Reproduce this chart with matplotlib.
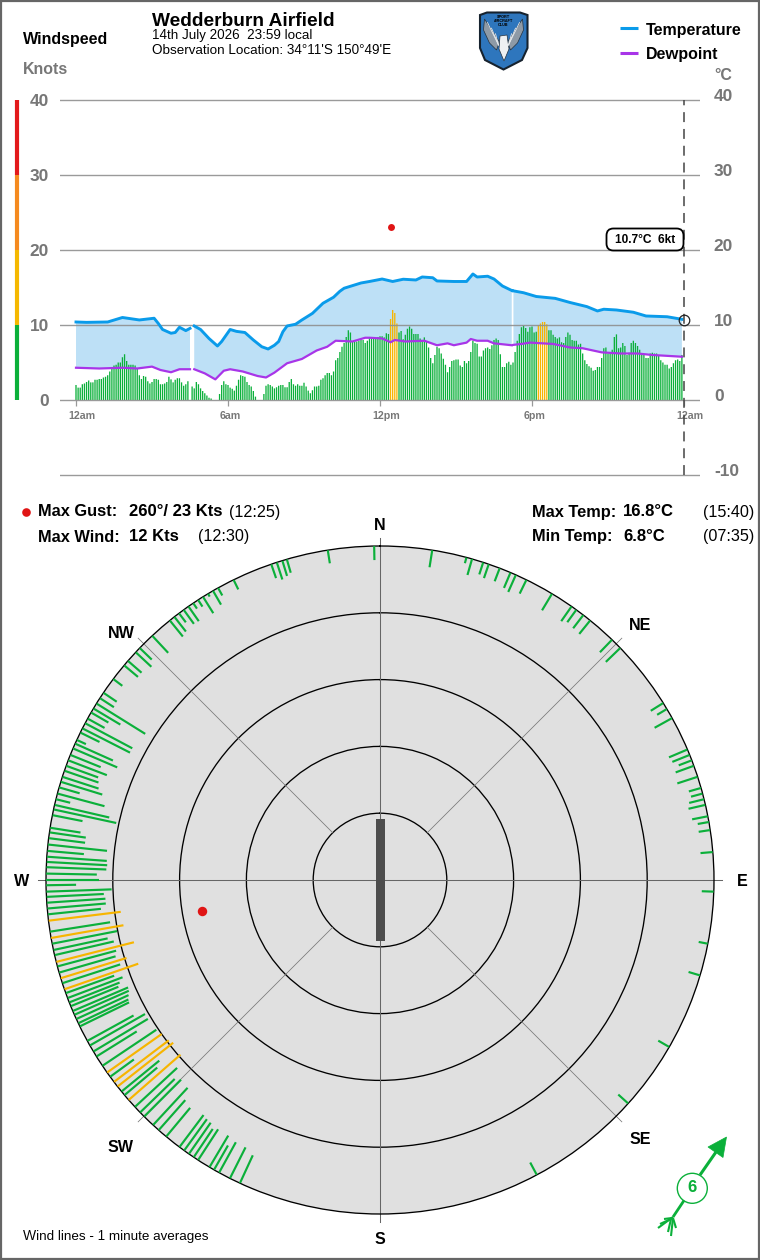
import numpy as np
import matplotlib
matplotlib.use("Agg")
import matplotlib.pyplot as plt
from matplotlib.patches import Polygon, Rectangle, FancyBboxPatch, Circle

plt.rcParams["font.family"] = ["Liberation Sans", "DejaVu Sans"]
plt.rcParams["text.hinting"] = "no_autohint"

W, H = 760, 1260
GREEN, AMBER = "#0bb03a", "#f7b500"
GREY = "#777777"
TEMP_C, DEW_C = "#0a9bea", "#a835e8"

# 5-minute average wind speed in knots, midnight to midnight
wind_bars = [
    2.0, 1.65, 1.65, 2.1, 2.2, 2.4, 2.6, 2.35, 2.35, 2.7,
    2.7, 2.8, 2.8, 3.0, 3.1, 3.3, 3.8, 4.4, 4.6, 4.7,
    5.0, 5.0, 5.7, 6.1, 5.2, 4.7, 4.7, 4.7, 4.6, 4.2,
    3.3, 2.8, 3.2, 3.1, 2.5, 2.2, 2.4, 2.8, 2.8, 2.7,
    2.1, 2.1, 2.2, 2.4, 3.1, 2.75, 2.35, 2.7, 2.9, 2.9,
    2.35, 1.9, 2.1, 2.5, 0, 1.8, 1.55, 2.4, 2.1, 1.55,
    1.2, 0.9, 0.6, 0.3, 0.2, 0, 0, 0, 0.8, 2.0,
    2.5, 2.1, 2.0, 1.65, 1.5, 1.25, 1.9, 2.7, 3.3, 3.2,
    3.1, 2.4, 2.0, 1.8, 1.2, 0.45, 0, 0, 0, 0.8,
    1.9, 2.1, 2.0, 1.8, 1.55, 1.7, 1.9, 2.0, 2.0, 1.7,
    1.7, 2.4, 2.8, 2.1, 1.9, 2.1, 1.9, 1.9, 2.3, 1.8,
    1.25, 0.9, 1.3, 1.8, 1.8, 1.9, 2.7, 2.9, 3.3, 3.6,
    3.6, 3.3, 3.8, 5.3, 5.6, 6.4, 7.1, 7.6, 8.4, 9.3,
    9.0, 7.8, 7.8, 7.8, 7.9, 8.0, 8.0, 7.6, 7.9, 8.4,
    8.2, 8.3, 8.3, 8.4, 8.5, 8.5, 8.35, 8.9, 8.8, 10.8,
    12.0, 11.6, 10.2, 9.0, 9.2, 8.1, 8.7, 9.5, 9.8, 9.5,
    8.8, 8.8, 8.8, 8.2, 8.0, 8.35, 7.8, 7.0, 5.6, 4.9,
    6.0, 7.1, 6.9, 6.2, 5.5, 4.7, 3.7, 4.4, 5.2, 5.3,
    5.4, 5.4, 4.6, 4.4, 5.2, 4.9, 5.2, 6.4, 7.9, 7.6,
    7.5, 5.8, 5.8, 6.6, 6.9, 7.0, 6.8, 7.3, 8.0, 8.2,
    8.0, 6.1, 4.4, 4.4, 4.9, 5.1, 4.7, 5.0, 6.4, 7.9,
    8.8, 9.7, 9.9, 9.6, 9.1, 9.7, 9.8, 9.0, 9.1, 10.0,
    10.2, 10.4, 10.4, 10.1, 9.3, 9.3, 8.7, 8.4, 8.2, 8.35,
    7.7, 7.6, 8.4, 9.0, 8.7, 8.0, 7.9, 7.9, 7.4, 7.5,
    6.2, 5.3, 4.8, 4.5, 4.3, 3.9, 4.0, 4.4, 4.4, 5.6,
    6.9, 7.0, 6.2, 6.2, 6.7, 8.4, 8.75, 6.9, 7.0, 7.6,
    7.2, 6.0, 6.3, 7.6, 7.9, 7.6, 7.2, 6.7, 6.2, 6.1,
    5.6, 5.6, 6.2, 6.3, 6.2, 6.2, 6.0, 5.3, 5.0, 4.7,
    4.7, 4.2, 4.4, 4.9, 5.3, 5.4, 5.2, 6.0,
]

# Temperature and dewpoint, position in 5-minute samples; nan marks a logging gap
temp_t = [0, 5, 15, 22, 30, 37, 39, 41, 45, 47, 49, 52, 54, np.nan, 56, 59, 63, 67, 69, 73,
          76, 80, 84, 88, 91, 94, 96, 98, 100, 104, 107, 112, 117, 122, 125, 127, 135, 139,
          145, 150, 155, 161, 164, 169, 171, 179, 185, 188, 190, 195, 198, 202, 206.4, np.nan,
          207.2, 212, 218, 227, 234, 242, 247, 250, 256, 264, 270, 280, 287]
temp_c = [10.4, 10.35, 10.4, 11.0, 10.67, 10.9, 10.2, 9.4, 8.9, 9.0, 9.7, 9.25, 9.55, np.nan,
          9.87, 9.4, 8.2, 7.2, 7.8, 9.4, 9.15, 9.0, 8.0, 7.1, 6.8, 7.3, 7.8, 9.1, 9.87, 10.1,
          10.67, 11.55, 12.9, 13.7, 14.5, 14.9, 15.6, 15.8, 16.13, 15.8, 16.1, 16.0, 16.4,
          16.3, 15.87, 15.8, 15.8, 16.8, 16.4, 16.5, 16.13, 15.2, 14.6, np.nan, 14.55, 14.3,
          13.8, 13.55, 13.0, 12.45, 11.87, 12.1, 12.0, 11.7, 11.2, 11.1, 10.76]
dew_t = [0, 11, 22, 29, 36, 40, 45, 49, 54, np.nan, 56, 61, 66, 70, 73, 79, 86, 90, 94, 100,
         107, 114, 119, 123, 131, 137, 139, 145, 149, 151, 156, 165, 171, 176, 179, 185, 187,
         190, 195, 198, 206.4, np.nan, 207.2, 211, 215, 226, 234, 240, 249, 258, 266, 273,
         281, 287]
dew_c = [4.3, 4.2, 4.3, 4.2, 4.45, 4.0, 3.7, 4.1, 4.1, np.nan, 4.1, 3.55, 2.75, 3.9, 4.1, 3.8,
         3.2, 3.0, 3.65, 4.9, 5.47, 6.6, 7.1, 7.9, 7.8, 8.3, 8.3, 8.2, 7.7, 8.0, 7.8, 7.9, 7.3,
         7.55, 7.3, 7.65, 8.13, 7.9, 7.9, 7.55, 7.3, np.nan, 7.35, 7.47, 7.65, 7.47, 7.0, 6.9,
         6.35, 6.2, 6.2, 6.0, 5.87, 5.77]

# One-minute wind samples: direction in degrees and speed in knots
wind_dir = [
    9, 15, 16, 18, 19, 21, 23, 24, 26, 31, 35, 36, 37.5, 39, 44, 46, 58, 59.2, 61, 67, 68, 69,
    70, 72, 74, 75, 76, 77, 79, 80, 81.4, 85.2, 92, 101, 106.6, 120, 132, 152,
    204.8, 206.7, 208.8, 209.8, 210.7, 213, 213.9, 214.9, 215.9, 216.9, 219.8, 221.5, 222.8,
    224.9, 225.9, 227.2, 228.8, 229.9, 230.7, 231.8, 232.8, 233.9, 234.8, 236.2, 238.1, 239.1,
    240.3, 241.2, 244, 244.6, 245.4, 246.2, 246.9, 247.8, 248.5, 249.3, 250.2, 250.9, 252,
    252.9, 253.9, 255, 255.8, 257, 257.9, 259, 260, 261.1, 263, 264.1, 265.1, 266.1, 267.1,
    268, 269.1, 270, 271.1, 272.2, 273.1, 274, 275, 276.1, 277.2, 278.2, 279, 281.2, 282.2,
    283, 284, 285, 286.1, 287.1, 288, 289.1, 290, 291, 292, 293.2, 294.1, 294.8, 296.2, 297,
    298, 298.9, 300.1, 300.9, 301.9, 303, 304.1, 307, 310, 311, 313, 314, 317, 321, 322,
    323, 324, 325, 326, 327, 328, 329, 330, 331, 334, 341, 342, 343, 343.8, 351, 359,
]
wind_kts = [
    2.6, 0.9, 2.5, 1.9, 2.2, 2.1, 2.5, 2.8, 2.3, 2.9, 2.7, 2.3, 2.5, 2.6, 2.6, 3.0, 2.2, 1.7,
    3.0, 3.0, 2.8, 2.1, 2.9, 3.2, 1.9, 1.8, 2.3, 2.6, 2.4, 1.7, 1.75, 1.85, 1.8, 1.4, 1.8,
    1.9, 2.0, 2.1,
    4.6, 5.2, 5.2, 4.2, 5.5, 5.5, 5.1, 5.7, 5.8, 6.0, 5.6, 6.0, 7.6,
    7.8, 7.2, 8.6, 10.3, 6.4, 7.3, 10.6, 10.3, 4.4, 10.0, 9.7, 7.1, 9.5,
    9.5, 7.9, 8.2, 8.3, 8.6, 8.9, 9.0, 7.7, 8.1, 8.8, 7.7, 11.7, 9.1,
    10.3, 8.8, 9.1, 12.0, 9.1, 8.3, 9.9, 11.0, 9.1, 10.9, 8.0, 8.8, 8.8, 8.6,
    9.8, 4.5, 7.9, 7.6, 9.0, 9.1, 9.0, 5.5, 8.9, 5.5, 5.5, 4.6, 4.6, 9.6,
    8.4, 2.2, 7.3, 3.2, 6.5, 5.7, 5.4, 5.1, 6.2, 4.9, 7.2, 6.2, 1.5, 3.2, 8.0,
    8.0, 2.9, 3.0, 4.7, 8.6, 2.5, 2.4, 1.7, 2.7, 2.7, 3.2, 2.5, 3.5, 3.1, 2.8,
    1.7, 2.6, 2.7, 1.0, 1.2, 2.9, 0.5, 2.4, 1.3, 1.6, 2.2, 2.7, 2.4, 2.1, 2.0, 2.1,
]

SPEED_BANDS = [0, 10, 20, 30, 40]
BAND_COLOURS = [GREEN, "#f5b800", "#f58a1f", "#e31a1c"]
COMPASS = {"N": (380, 525), "NE": (640, 626), "E": (742, 882), "SE": (640, 1140),
           "S": (380, 1240), "SW": (121, 1147), "W": (22, 882), "NW": (121, 633)}
HOUR_TICKS = [0, 6, 12, 18, 24]
HOUR_LABELS = ["12am", "6am", "12pm", "6pm", "12am"]
GUST_DIR, GUST_KT, GUST_SAMPLE = 260, 23, 149
NOW_TEMP = 10.7


def px_axes(left, top, width, height, **kw):
    """Axes placed by pixel box, measured from the top-left of the figure."""
    return fig.add_axes([left / W, 1 - (top + height) / H, width / W, height / H], **kw)


def polygon_segments(t, v):
    t, v = np.asarray(t, float), np.asarray(v, float)
    cuts = np.flatnonzero(np.isnan(t))
    return list(zip(np.split(t, cuts), np.split(v, cuts)))


fig = plt.figure(figsize=(W / 100, H / 100), dpi=100, facecolor="white")

# ---------- time series panel ----------
PX_PER_HOUR = 608 / 24
Y_LO, Y_HI = -10.2, 40.93
ax = px_axes(60, 93, 640, 383.5)
ax.set_xlim(-16 / PX_PER_HOUR, 624 / PX_PER_HOUR)
for side in ax.spines.values():
    side.set_visible(False)

to_hours = lambda s: np.asarray(s, float) * 24 / 288

for (t_a, v_a), (d_a, w_a) in zip(polygon_segments(temp_t, temp_c), polygon_segments(dew_t, dew_c)):
    t_a, v_a, d_a, w_a = [a[~np.isnan(a)] for a in (t_a, v_a, d_a, w_a)]
    poly_x = np.r_[to_hours(t_a), to_hours(d_a)[::-1]]
    poly_y = np.r_[v_a, w_a[::-1]]
    ax.fill(poly_x, poly_y, color="#bde0f6", lw=0, zorder=1)

bar_hours = to_hours(np.arange(len(wind_bars)))
bar_colours = [AMBER if v >= 10 else GREEN for v in wind_bars]
bars = ax.bar(bar_hours, wind_bars, width=1.3 / PX_PER_HOUR, color=bar_colours, lw=0, zorder=2)
for b in bars:
    b.set_snap(False)

ax.set_axisbelow(False)
ax.yaxis.grid(True, color="#8f8f8f", lw=1.0, alpha=0.9, zorder=2.5)
ax.set_yticks([0, 10, 20, 30, 40, -10])
ax.tick_params(axis="y", length=0, pad=8, labelcolor=GREY)
ax.set_yticklabels(["0", "10", "20", "30", "40", ""], fontsize=12.4, fontweight="bold")
ax.set_xticks([])
ax.vlines(HOUR_TICKS, -0.75, 0, color="#999999", lw=0.9, zorder=2.5)
for h, s in zip(HOUR_TICKS, HOUR_LABELS):
    ax.text(h - 8 / PX_PER_HOUR, -2.13, s, fontsize=7.7, fontweight="bold", color=GREY, ha="left", va="center")
ax.plot(to_hours(temp_t), temp_c, color=TEMP_C, lw=2.1, zorder=4, solid_joinstyle="round")
ax.plot(to_hours(dew_t), dew_c, color=DEW_C, lw=1.6, zorder=4, solid_joinstyle="round")
ax.plot(to_hours(GUST_SAMPLE), GUST_KT, "o", color="#e01515", ms=5.0, mew=0, zorder=5)
ax.vlines(24, -10, 40, color="#444444", lw=1.1, linestyles=(0, (6.5, 4.5)), zorder=5)
ax.plot(24, NOW_TEMP, "o", mfc="none", mec="#222222", mew=0.9, ms=7.6, zorder=6, clip_on=False)
ax.set_ylim(Y_LO, Y_HI)

# speed band strip alongside the left axis
strip = ax.get_yaxis_transform()
ax.vlines([(17 - 60) / 640] * 4, SPEED_BANDS[:-1], SPEED_BANDS[1:], colors=BAND_COLOURS,
          lw=3, transform=strip, clip_on=False)
ax.set_ylim(Y_LO, Y_HI)

# right-hand temperature scale sits just above its grid line
ax_r = ax.twinx()
for side in ax_r.spines.values():
    side.set_visible(False)
ax_r.set_yticks([-10, 0, 10, 20, 30, 40])
ax_r.set_yticklabels(["-10", "0", "10", "20", "30", "40"], fontsize=12.4, fontweight="bold", color=GREY)
ax_r.tick_params(axis="y", length=0, pad=10)
ax_r.set_ylim(Y_LO - 5 / 7.5, Y_HI - 5 / 7.5)

# ---------- wind rose ----------
rose = px_axes(46, 546, 668, 668, projection="polar", facecolor="#e0e0e0")
rose.set_theta_zero_location("N")
rose.set_theta_direction(-1)
rose.set_ylim(0, 50)
rose.set_xticks([])
rose.set_yticks([10, 20, 30, 40])
rose.set_yticklabels([])
rose.yaxis.grid(True, color="black", lw=0.95)
rose.spines["polar"].set_color("black")
rose.spines["polar"].set_linewidth(0.95)
for d in (0, 90, 180, 270):
    rose.plot([np.radians(d)] * 2, [0, 51.2], color="#666666", lw=0.75, clip_on=False, zorder=2)
for d in (45, 135, 225, 315):
    rose.plot([np.radians(d)] * 2, [10, 51.2], color="#777777", lw=0.55, clip_on=False, zorder=2)
for d, s in zip(wind_dir, wind_kts):
    rose.plot([np.radians(d)] * 2, [50, 50 - s], color=AMBER if s >= 10 else GREEN,
              lw=1.55, solid_capstyle="butt", zorder=3)
rose.plot(np.radians(GUST_DIR), 50 - GUST_KT, "o", color="#e01515", ms=6.8, mew=0, zorder=4)
rose.set_ylim(0, 50)

# ---------- page furniture, in pixel coordinates ----------
page = fig.add_axes([0, 0, 1, 1], facecolor="none")
page.set_xlim(0, W)
page.set_ylim(H, 0)
page.axis("off")
page.add_patch(Rectangle((1, 1), W - 2, H - 2, fc="none", ec="#666666", lw=1.6))


def label(x, y, s, size, bold=False, color="black", ha="left", **kw):
    page.text(x, y, s, fontsize=size, fontweight="bold" if bold else "normal",
              color=color, ha=ha, va="center", **kw)


label(23, 39.5, "Windspeed", 11.5, True)
label(23, 70, "Knots", 11.5, True, GREY)
label(714, 75, "°C", 11.5, True, GREY)
label(152, 20.5, "Wedderburn Airfield", 13.8, True)
label(152, 36, "14th July 2026  23:59 local", 9.7)
label(152, 51, "Observation Location: 34°11'S 150°49'E", 9.7)

for y, name, txt_y, col in ((28, "Temperature", 30, TEMP_C), (52.5, "Dewpoint", 54.5, DEW_C)):
    page.plot([620, 638], [y, y], color=col, lw=2.2, solid_capstyle="butt")
    label(646, txt_y, name, 11.5, True)

page.plot(25.5, 512, "o", color="#e01515", ms=6.2, mew=0)
label(38, 512, "Max Gust:", 11.8, True)
label(129, 512, "260°/ 23 Kts", 12, True)
label(229, 512, "(12:25)", 11.6)
label(38, 537, "Max Wind:", 11.8, True)
label(129, 537, "12 Kts", 12, True)
label(198, 537, "(12:30)", 11.6)
label(532, 512, "Max Temp:", 11.8, True)
label(623, 512, "16.8°C", 12, True)
label(703, 512, "(15:40)", 11.6)
label(532, 537, "Min Temp:", 11.8, True)
label(623, 537, "6.8°C", 12, True)
label(703, 537, "(07:35)", 11.6)

for name, (x, y) in COMPASS.items():
    label(x, y, name, 11.6, True, ha="center")

label(23, 1236.5, "Wind lines - 1 minute averages", 9.7)

# runway strip at the rose centre
page.add_patch(Rectangle((376, 819), 9, 122, fc="#4d4d4d", ec="none", zorder=5))

# current temperature and wind callout
page.add_patch(FancyBboxPatch((610, 232), 70, 15, boxstyle="round,pad=3.5,rounding_size=7",
                              fc="white", ec="black", lw=1.3, zorder=7))
label(645, 239.5, "10.7°C  6kt", 8.6, True, ha="center", zorder=8)

# current wind arrow
page.plot([700, 716], [1175, 1152], color=GREEN, lw=2.2, solid_capstyle="butt")
page.plot([684, 673], [1200.5, 1217], color=GREEN, lw=2.0, solid_capstyle="butt")
page.add_patch(Polygon([(726.5, 1137), (708, 1147), (723, 1157.5)], fc=GREEN, ec=GREEN, lw=0.5))
page.add_patch(Circle((692.3, 1188.3), 15, fc="white", ec=GREEN, lw=1.0))
label(692.5, 1188.5, "6", 12, True, GREEN, ha="center")
for tail_x, tail_y, head_x, head_y in ((658, 1228, 673, 1217), (660, 1224, 673, 1218),
                                       (664, 1219, 672, 1218), (671, 1236, 673, 1218),
                                       (676, 1228, 673, 1218), (668, 1232, 671, 1219)):
    page.plot([head_x, tail_x], [head_y, tail_y], color=GREEN, lw=1.5, solid_capstyle="butt")

# club badge
badge_outline = [(480, 15), (487, 12.5), (520, 12.5), (527.5, 15), (527.5, 48), (522, 60),
                 (503.5, 69.5), (485, 60), (480, 48)]
page.add_patch(Polygon(badge_outline, closed=True, fc="#2e76bd", ec="#16222e", lw=1.5))
for side in (-1, 1):
    wing = [(503.5 + side * 4, 42), (503.5 + side * 19, 19), (503.5 + side * 20, 30),
            (503.5 + side * 14, 43), (503.5 + side * 7, 50)]
    page.add_patch(Polygon(wing, closed=True, fc="#8e9aa6", ec="#26323e", lw=0.5))
    for reach in (8, 12, 16):
        page.plot([503.5 + side * 5, 503.5 + side * reach], [45, 45 - reach * 1.4],
                  color="#e8ecef", lw=0.6)
page.add_patch(Polygon([(500, 36), (507, 35), (509, 49), (504, 61), (499, 49)], closed=True,
                       fc="#eef0f2", ec="#26323e", lw=0.5))
for y, s in ((17, "SPORT"), (21, "AIRCRAFT"), (25, "CLUB")):
    label(503.5, y, s, 2.8, True, ha="center")

fig.savefig("out.png", dpi=100)
